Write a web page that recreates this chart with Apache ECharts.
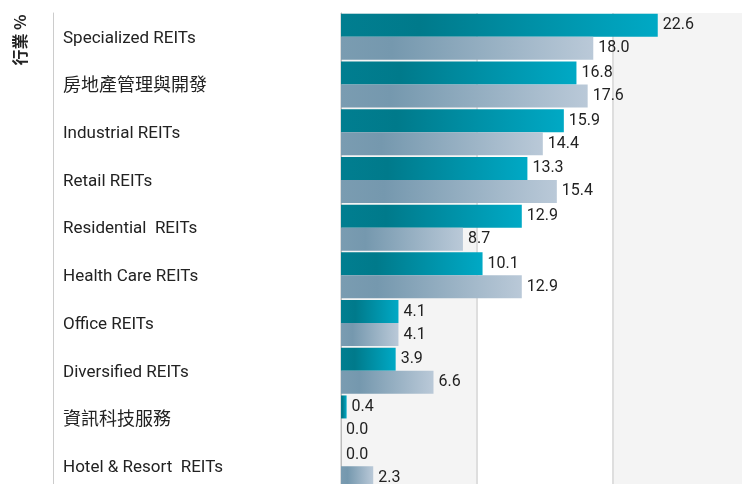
<!DOCTYPE html>
<html>
<head>
<meta charset="utf-8">
<script src="https://cdn.jsdelivr.net/npm/echarts@6/dist/echarts.min.js"></script>
<style>
  html, body { margin: 0; padding: 0; background: #fff; }
  #chart { width: 742px; height: 484px; }
</style>
</head>
<body>
<div id="chart"></div>
<script>
// 行業 分佈
const categories = [
  'Specialized REITs',
  '房地產管理與開發',
  'Industrial REITs',
  'Retail REITs',
  'Residential  REITs',
  'Health Care REITs',
  'Office REITs',
  'Diversified REITs',
  '資訊科技服務',
  'Hotel & Resort  REITs'
];
const fundValues = [22.6, 16.8, 15.9, 13.3, 12.9, 10.1, 4.1, 3.9, 0.4, 0.0];
const benchValues = [18.0, 17.6, 14.4, 15.4, 8.7, 12.9, 4.1, 6.6, 0.0, 2.3];

const font = 'Roboto, "Noto Sans CJK TC", sans-serif';

function grad(stops) {
  return new echarts.graphic.LinearGradient(0, 0, 1, 0, stops);
}

const chart = echarts.init(document.getElementById('chart'));
chart.setOption({
  animation: false,
  grid: {
    left: 341, width: 407, top: 13, height: 477,
    containLabel: false,
    outerBoundsMode: 'none'
  },
  xAxis: {
    type: 'value',
    min: 0,
    max: 29.04,
    interval: 9.68,
    axisLabel: { show: false },
    axisTick: { show: false },
    axisLine: { show: false },
    splitLine: { show: true, lineStyle: { color: '#dedede', width: 2 } },
    splitArea: { show: true, areaStyle: { color: ['#f4f4f4', '#ffffff'] } }
  },
  yAxis: [
    {
      type: 'category',
      inverse: true,
      data: categories,
      axisTick: { show: false },
      axisLine: { show: true, lineStyle: { color: '#bbbbbb', width: 1 } },
      axisLabel: {
        align: 'left',
        margin: 278,
        color: '#222',
        fontSize: 17,
        fontFamily: font,
        padding: [3, 0, 0, 0],
        // 中文標籤字體較大
        formatter: v => /[\u4e00-\u9fff]/.test(v) ? '{cjk|' + v + '}' : v,
        rich: {
          cjk: {
            fontSize: 18,
            fontFamily: '"Noto Sans CJK TC", sans-serif',
            color: '#222',
            padding: [0, 0, 4, 0]
          }
        }
      }
    },
    {
      type: 'category',
      inverse: true,
      position: 'left',
      offset: 288,
      data: categories,
      axisTick: { show: false },
      axisLabel: { show: false },
      axisLine: { show: true, lineStyle: { color: '#cccccc', width: 1 } }
    }
  ],
  graphic: [
    {
      type: 'text',
      x: 20,
      y: 40,
      rotation: Math.PI / 2,
      style: {
        text: '行業 %',
        fill: '#222',
        font: 'bold 16px "Noto Sans CJK TC", sans-serif',
        align: 'center',
        verticalAlign: 'middle'
      }
    }
  ],
  series: [
    {
      name: 'fund',
      type: 'bar',
      data: fundValues,
      barWidth: 23,
      barGap: '0%',
      itemStyle: {
        color: grad([
          { offset: 0, color: '#017e90' },
          { offset: 0.25, color: '#007a8b' },
          { offset: 1, color: '#00a9c5' }
        ])
      },
      label: {
        show: true,
        position: 'right',
        distance: 5,
        color: '#222',
        fontSize: 16,
        fontFamily: font,
        formatter: p => p.value.toFixed(1)
      }
    },
    {
      name: 'bench',
      type: 'bar',
      data: benchValues,
      barWidth: 23,
      barGap: '0%',
      itemStyle: {
        color: grad([
          { offset: 0, color: '#7a9cb1' },
          { offset: 0.2, color: '#7598ae' },
          { offset: 1, color: '#bac9d8' }
        ])
      },
      label: {
        show: true,
        position: 'right',
        distance: 5,
        color: '#222',
        fontSize: 16,
        fontFamily: font,
        formatter: p => p.value.toFixed(1)
      }
    }
  ]
});
</script>
</body>
</html>
